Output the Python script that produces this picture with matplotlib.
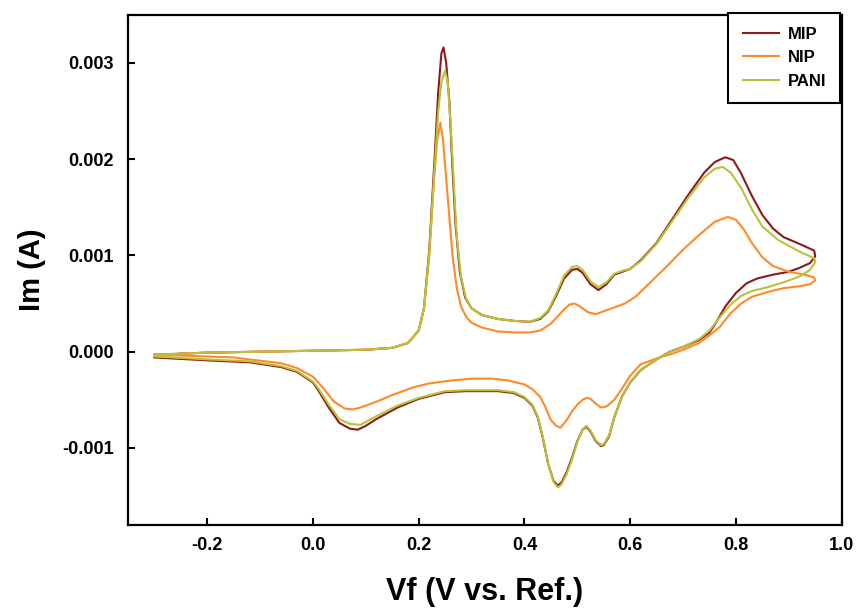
import matplotlib.pyplot as plt

# cyclic voltammograms: forward (anodic) scan then reverse scan
mip_v = [-0.30, -0.25, -0.20, -0.10, 0.00, 0.10, 0.15, 0.18, 0.20, 0.21, 0.22, 0.23, 0.237,
         0.243, 0.247, 0.252, 0.258, 0.264, 0.270, 0.278, 0.288, 0.30, 0.32, 0.35, 0.38, 0.41,
         0.43, 0.445, 0.46, 0.475, 0.49, 0.50, 0.51, 0.525, 0.54, 0.555, 0.57, 0.585, 0.60,
         0.62, 0.65, 0.68, 0.71, 0.74, 0.76, 0.78, 0.795, 0.81, 0.83, 0.85, 0.87, 0.89, 0.92,
         0.948,
         0.95, 0.94, 0.92, 0.90, 0.87, 0.84, 0.82, 0.80, 0.78, 0.76, 0.75, 0.73, 0.70, 0.675,
         0.65, 0.62, 0.60, 0.585, 0.57, 0.56, 0.55, 0.545, 0.535, 0.525, 0.517, 0.51, 0.50,
         0.49, 0.48, 0.47, 0.463, 0.455, 0.445, 0.435, 0.425, 0.415, 0.40, 0.38, 0.35, 0.32,
         0.29, 0.25, 0.20, 0.16, 0.12, 0.10, 0.085, 0.07, 0.05, 0.03, 0.01, 0.00, -0.03,
         -0.06, -0.12, -0.20, -0.30]
mip_i = [-0.00004, -0.00002, -0.00001, 0.0, 0.00001, 0.00002, 0.00004, 0.00009, 0.00022,
         0.00045, 0.00105, 0.0020, 0.0027, 0.0031, 0.00316, 0.0030, 0.0026, 0.0019, 0.0013,
         0.00082, 0.00056, 0.00045, 0.00038, 0.00034, 0.00032, 0.00031, 0.00034, 0.00042,
         0.00058, 0.00076, 0.00085, 0.00086, 0.00082, 0.00070, 0.00064, 0.00070, 0.00080,
         0.00083, 0.00086, 0.00095, 0.00113, 0.00138, 0.00163, 0.00186, 0.00197, 0.00202,
         0.00199, 0.00185, 0.00162, 0.00142, 0.00128, 0.00119, 0.00112, 0.00105,
         0.00099, 0.00092, 0.00087, 0.00083, 0.00080, 0.00076, 0.00071, 0.00061, 0.00047,
         0.00028, 0.00020, 0.00012, 0.00005, 0.0, -0.00008, -0.00019, -0.00032, -0.00046,
         -0.00068, -0.00088, -0.00097, -0.00098, -0.00093, -0.00083, -0.00078, -0.00081,
         -0.00093, -0.00110, -0.00125, -0.00136, -0.00139, -0.00134, -0.00117, -0.00090,
         -0.00068, -0.00056, -0.00048, -0.00043, -0.00041, -0.00041, -0.00041, -0.00042,
         -0.00049, -0.00058, -0.00070, -0.00077, -0.00081, -0.00080, -0.00074, -0.00058,
         -0.00040, -0.00032, -0.00021, -0.00016, -0.00011, -0.00009, -0.00006]

nip_v = [-0.30, -0.20, -0.10, 0.00, 0.10, 0.15, 0.18, 0.20, 0.21, 0.22, 0.228, 0.235, 0.241,
         0.246, 0.252, 0.258, 0.264, 0.272, 0.28, 0.29, 0.30, 0.32, 0.35, 0.38, 0.41, 0.43,
         0.45, 0.47, 0.485, 0.495, 0.505, 0.52, 0.535, 0.55, 0.57, 0.59, 0.61, 0.64, 0.67,
         0.70, 0.73, 0.76, 0.785, 0.80, 0.815, 0.83, 0.85, 0.87, 0.90, 0.93, 0.948,
         0.95, 0.94, 0.92, 0.89, 0.86, 0.83, 0.81, 0.79, 0.77, 0.75, 0.73, 0.70, 0.68, 0.65,
         0.62, 0.60, 0.585, 0.57, 0.555, 0.545, 0.535, 0.525, 0.518, 0.51, 0.50, 0.49, 0.48,
         0.468, 0.46, 0.45, 0.44, 0.43, 0.415, 0.40, 0.37, 0.34, 0.30, 0.26, 0.22, 0.19,
         0.15, 0.12, 0.09, 0.075, 0.06, 0.04, 0.02, 0.00, -0.03, -0.06, -0.15, -0.30]
nip_i = [-0.00003, -0.00001, 0.0, 0.00001, 0.00002, 0.00004, 0.00009, 0.00022, 0.00045,
         0.0010, 0.0017, 0.0022, 0.00238, 0.0022, 0.0018, 0.0014, 0.0010, 0.00066, 0.00047,
         0.00036, 0.0003, 0.00025, 0.00021, 0.0002, 0.0002, 0.00022, 0.00029, 0.00041,
         0.00049, 0.0005, 0.00047, 0.00041, 0.00039, 0.00042, 0.00046, 0.00050, 0.00057,
         0.00073, 0.00089, 0.00106, 0.00121, 0.00135, 0.0014, 0.00137, 0.00127, 0.00113,
         0.00098, 0.00089, 0.00083, 0.0008, 0.00077,
         0.00074, 0.00070, 0.00068, 0.00066, 0.00062, 0.00057, 0.00050, 0.00040, 0.00026,
         0.00017, 0.00009, 0.00002, -0.00002, -0.00007, -0.00013, -0.00025, -0.00038,
         -0.00050, -0.00057, -0.00058, -0.00054, -0.00049, -0.00048, -0.00050, -0.00055,
         -0.00062, -0.00071, -0.00079, -0.00077, -0.00071, -0.00058, -0.00047, -0.00039,
         -0.00034, -0.0003, -0.00028, -0.00028, -0.00030, -0.00033, -0.00037, -0.00045,
         -0.00052, -0.00058, -0.0006, -0.00059, -0.00052, -0.00038, -0.00026, -0.00017,
         -0.00012, -0.00006, -0.00003]

pani_v = [-0.30, -0.25, -0.20, -0.10, 0.00, 0.10, 0.15, 0.18, 0.20, 0.21, 0.22, 0.23, 0.237,
          0.243, 0.25, 0.255, 0.26, 0.266, 0.272, 0.28, 0.29, 0.30, 0.32, 0.35, 0.38, 0.41,
          0.43, 0.445, 0.46, 0.475, 0.49, 0.50, 0.51, 0.525, 0.54, 0.555, 0.57, 0.585, 0.60,
          0.62, 0.65, 0.68, 0.71, 0.74, 0.76, 0.775, 0.79, 0.81, 0.83, 0.85, 0.88, 0.92,
          0.948,
          0.95, 0.94, 0.92, 0.89, 0.86, 0.83, 0.81, 0.79, 0.77, 0.75, 0.73, 0.70, 0.675,
          0.65, 0.62, 0.60, 0.585, 0.57, 0.56, 0.55, 0.545, 0.535, 0.525, 0.517, 0.51, 0.50,
          0.49, 0.48, 0.47, 0.463, 0.455, 0.445, 0.435, 0.425, 0.415, 0.40, 0.38, 0.35, 0.32,
          0.29, 0.25, 0.20, 0.16, 0.12, 0.10, 0.09, 0.07, 0.05, 0.03, 0.01, 0.00, -0.03,
          -0.06, -0.12, -0.20, -0.30]
pani_i = [-0.00004, -0.00002, -0.00001, 0.0, 0.00001, 0.00002, 0.00004, 0.00009, 0.00022,
          0.00045, 0.00100, 0.0019, 0.0025, 0.0028, 0.00292, 0.0028, 0.0024, 0.0018, 0.0012,
          0.00078, 0.00054, 0.00045, 0.00038, 0.00034, 0.00032, 0.00031, 0.00035, 0.00043,
          0.00060, 0.00079, 0.00088, 0.00089, 0.00085, 0.00073, 0.00067, 0.00072, 0.00081,
          0.00084, 0.00086, 0.00094, 0.00112, 0.00136, 0.00160, 0.00181, 0.00190, 0.00192,
          0.00186, 0.00170, 0.00148, 0.00130, 0.00116, 0.00104, 0.00097,
          0.00093, 0.00085, 0.00078, 0.00072, 0.00067, 0.00063, 0.00058, 0.00049, 0.00036,
          0.00022, 0.00013, 0.00005, 0.0, -0.00008, -0.00019, -0.00032, -0.00046, -0.00068,
          -0.00087, -0.00096, -0.00097, -0.00092, -0.00082, -0.00077, -0.00081, -0.00094,
          -0.00112, -0.00127, -0.00138, -0.00141, -0.00135, -0.00117, -0.00089, -0.00067,
          -0.00055, -0.00047, -0.00042, -0.00040, -0.00040, -0.00040, -0.00041, -0.00048,
          -0.00056, -0.00067, -0.00073, -0.00076, -0.00075, -0.00070, -0.00055, -0.00038,
          -0.00031, -0.00020, -0.00015, -0.00010, -0.00008, -0.00005]

x_ticks = [-0.2, 0.0, 0.2, 0.4, 0.6, 0.8, 1.0]
y_ticks = [-0.001, 0.000, 0.001, 0.002, 0.003]

plt.rcParams["font.family"] = ["Liberation Sans", "DejaVu Sans"]
plt.rcParams["font.weight"] = "bold"

fig = plt.figure(figsize=(8.58, 6.14), dpi=100)
ax = fig.add_axes([0.149, 0.145, 0.832, 0.831])

ax.plot(mip_v, mip_i, color="#8b1a1a", lw=1.5, label="MIP")
ax.plot(nip_v, nip_i, color="#ff8a2a", lw=1.5, label="NIP")
ax.plot(pani_v, pani_i, color="#bcc13a", lw=1.5, label="PANI")

ax.set_xlim(-0.35, 1.0)
ax.set_ylim(-0.0018, 0.0035)
ax.set_xticks(x_ticks)
ax.set_xticklabels([f"{t:.1f}" for t in x_ticks])
ax.set_yticks(y_ticks)
ax.set_yticklabels([f"{t:.3f}" for t in y_ticks])

for s in ax.spines.values():
    s.set_linewidth(1.6)
ax.tick_params(direction="in", length=5, width=1.5, labelsize=13)
ax.tick_params(axis="x", pad=9)
ax.tick_params(axis="y", pad=10)

ax.set_xlabel("Vf (V vs. Ref.)", fontsize=22, fontweight="bold", labelpad=16)
ax.set_ylabel("Im (A)", fontsize=21, fontweight="bold", labelpad=12)

leg = ax.legend(loc="upper right", bbox_to_anchor=(0.998, 1.004), borderaxespad=0,
                fancybox=False, edgecolor="black", fontsize=12, handlelength=2.2,
                labelspacing=0.5, borderpad=0.85, handletextpad=0.5)
leg.get_frame().set_linewidth(1.5)
leg.get_frame().set_alpha(1)

fig.savefig("out.png", dpi=100)
